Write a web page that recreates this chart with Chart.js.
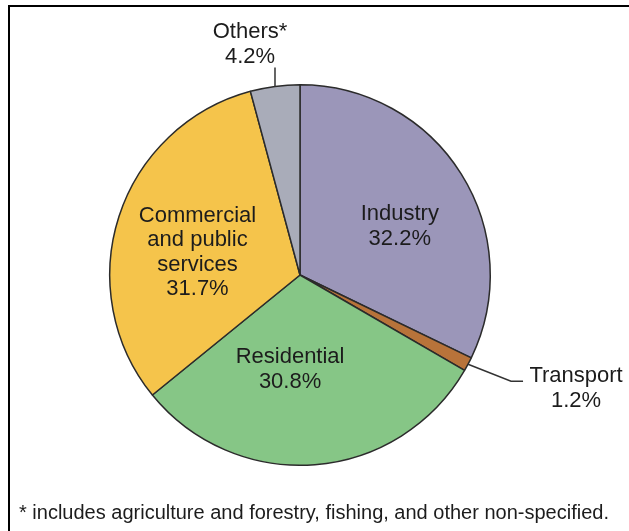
<!DOCTYPE html>
<html>
<head>
<meta charset="utf-8">
<script src="https://cdn.jsdelivr.net/npm/chart.js@4"></script>
<style>
  html, body { margin: 0; padding: 0; background: #fff; }
  #wrap { position: relative; width: 629px; height: 531px; overflow: hidden; }
  #frame {
    position: absolute; left: 8px; top: 5px; width: 700px; height: 600px;
    border-top: 2.5px solid #000; border-left: 2px solid #000;
  }
  canvas { position: absolute; left: 0; top: 0; }
</style>
</head>
<body>
<div id="wrap">
  <div id="frame"></div>
  <canvas id="pie" width="629" height="531"></canvas>
</div>
<script>
/* ---------------- data ---------------- */
const sectors = ['Industry', 'Transport', 'Residential', 'Commercial and public services', 'Others*'];
const shares = [32.2, 1.2, 30.8, 31.7, 4.2];
const sectorColors = ['#9b96b9', '#b8733a', '#86c686', '#f5c44b', '#a9acb9'];
const footnote = '* includes agriculture and forestry, fishing, and other non-specified.';

/* ---------------- label layout ---------------- */
// inside labels: placed by angle (deg from 12 o'clock) and distance from centre
// outside labels: leader line from the rim at the slice middle, text beside it
const LABELS = [
  { lines: ['Industry'], angle: 64, dist: 111 },
  { lines: ['Transport'], outside: 'transport' },
  { lines: ['Residential'], angle: 186, dist: 95 },
  { lines: ['Commercial', 'and public', 'services'], angle: 282.5, dist: 105 },
  { lines: ['Others*'], outside: 'others' }
];

const FONT = '22px "Liberation Sans", Arial, sans-serif';
const LINE_H = 24.5;

function drawBlock(ctx, lines, cx, cy) {
  const top = cy - (lines.length - 1) * LINE_H / 2;
  lines.forEach((t, i) => ctx.fillText(t, cx, top + i * LINE_H));
}

const pieLabels = {
  id: 'pieLabels',
  afterDatasetsDraw(chart) {
    const ctx = chart.ctx;
    const meta = chart.getDatasetMeta(0);
    const arc0 = meta.data[0];
    const cx = arc0.x, cy = arc0.y, r = arc0.outerRadius;
    const rim = deg => {
      const a = deg * Math.PI / 180;
      return [cx + r * Math.sin(a), cy - r * Math.cos(a)];
    };

    ctx.save();
    ctx.font = FONT;
    ctx.fillStyle = '#1c1c1c';
    ctx.textAlign = 'center';
    ctx.textBaseline = 'middle';
    ctx.strokeStyle = '#333';
    ctx.lineWidth = 1.5;

    LABELS.forEach((lab, i) => {
      const txt = lab.lines.concat([shares[i].toFixed(1) + '%']);
      if (!lab.outside) {
        const a = lab.angle * Math.PI / 180;
        drawBlock(ctx, txt, cx + lab.dist * Math.sin(a), cy - lab.dist * Math.cos(a));
        return;
      }
      const arc = meta.data[i];
      const mid = ((arc.startAngle + arc.endAngle) / 2 + Math.PI / 2) * 180 / Math.PI;
      const [x0, y0] = rim(mid);
      ctx.beginPath();
      ctx.moveTo(x0, y0);
      if (lab.outside === 'transport') {
        ctx.lineTo(x0 + 43, y0 + 17);
        ctx.lineTo(x0 + 55, y0 + 17);
        ctx.stroke();
        drawBlock(ctx, txt, x0 + 108, y0 + 24);
      } else {
        ctx.lineTo(x0, y0 - 19);
        ctx.stroke();
        drawBlock(ctx, txt, x0 - 25, y0 - 42);
      }
    });

    ctx.textAlign = 'left';
    ctx.font = '20px "Liberation Sans", Arial, sans-serif';
    ctx.fillText(footnote, 19, 513);
    ctx.restore();
  }
};

new Chart(document.getElementById('pie'), {
  type: 'pie',
  data: {
    labels: sectors,
    datasets: [{
      data: shares,
      backgroundColor: sectorColors,
      borderColor: '#2b2b2b',
      borderWidth: 1.5
    }]
  },
  options: {
    responsive: false,
    animation: false,
    layout: { padding: { left: 109, right: 138, top: 84, bottom: 65 } },
    plugins: { legend: { display: false }, tooltip: { enabled: false } }
  },
  plugins: [pieLabels]
});
</script>
</body>
</html>
